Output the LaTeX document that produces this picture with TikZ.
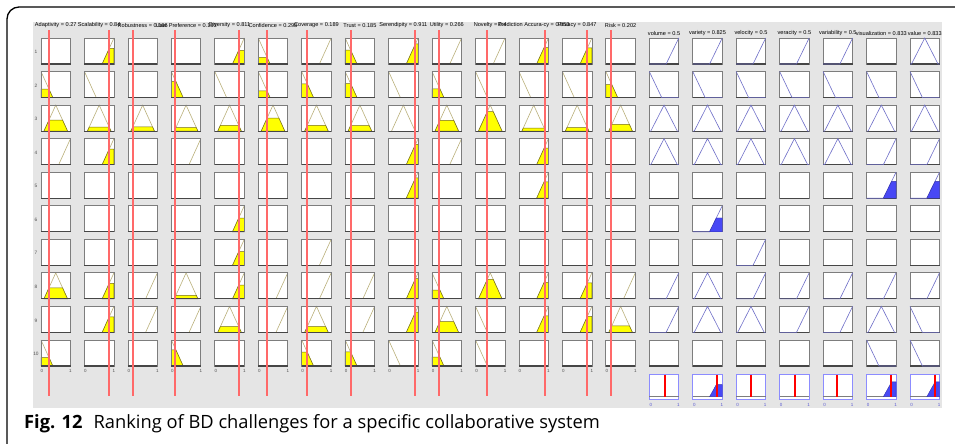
\documentclass[tikz,border=0pt]{standalone}
\usepackage{fontspec}
\setmainfont{Liberation Sans}
\newfontfamily\capfont{Open Sans}

\definecolor{panel}{RGB}{229,229,229}
\definecolor{boxgray}{RGB}{125,125,125}
\definecolor{basegray}{RGB}{70,70,70}
\definecolor{khaki}{RGB}{186,176,122}
\definecolor{fillyel}{RGB}{255,255,0}
\definecolor{filledge}{RGB}{115,105,25}
\definecolor{inred}{RGB}{255,105,105}
\definecolor{outblue}{RGB}{110,110,200}
\definecolor{fillblue}{RGB}{72,72,245}
\definecolor{aggframe}{RGB}{140,140,255}
\definecolor{ticktxt}{RGB}{80,80,80}
\definecolor{bluetxt}{RGB}{90,90,210}

\tikzset{
  cellbg/.style={fill=white},
  cellframe/.style={draw=boxgray,line width=0.8pt},
  cellbase/.style={draw=basegray,line width=1.1pt},
  inmf/.style={draw=khaki,line width=0.6pt},
  incut/.style={fill=fillyel,draw=filledge,line width=0.5pt},
  outmf/.style={draw=outblue,line width=0.6pt},
  outcut/.style={fill=fillblue,draw=fillblue!70!black,line width=0.4pt},
  aggbox/.style={fill=white,draw=aggframe,line width=0.7pt},
  aggbase/.style={draw=boxgray,line width=0.6pt},
  valline/.style={draw=inred,line width=1.6pt},
  aggline/.style={draw=red,line width=2pt},
  varlabel/.style={font=\fontsize{5.6}{6}\selectfont,text=black,inner sep=0pt},
  rulenum/.style={font=\fontsize{4.8}{5}\selectfont,text=ticktxt,inner sep=0pt},
  ticklbl/.style={font=\fontsize{4.5}{5}\selectfont,text=ticktxt,inner sep=0pt},
  blueticklbl/.style={font=\fontsize{4.5}{5}\selectfont,text=bluetxt,inner sep=0pt},
  caption/.style={font=\capfont\fontsize{18.3}{20}\selectfont,inner sep=0pt,anchor=base west},
  outerframe/.style={draw=black,line width=1.3pt,rounded corners=12pt}
}

% crisp input values of the fourteen antecedent variables
\def\invals{{0.27,0.84,0.166,0.153,0.811,0.298,0.189,0.185,0.911,0.266,0.4,0.853,0.847,0.202}}

% one antecedent plot: column, rule, membership function (L, M, H or 0)
\newcommand\drawincell[3]{%
  \pgfmathsetmacro\cellx{41+43.45*#1}%
  \pgfmathsetmacro\celly{64+33.55*(#2-1)}%
  \pgfmathsetmacro\cv{\invals[#1]}%
  \begin{scope}[shift={(\cellx,\celly)},x=29.5pt,y=26pt]
    \fill[cellbg] (0,0) rectangle (1,1);
    \if#3L
      \pgfmathsetmacro\cut{max(0,1-\cv/0.4)}%
      \draw[inmf] (0,1) -- (0.4,0);
      \ifdim\cut pt>0.01pt
        \filldraw[incut] (0,0) -- (0,\cut) -- ({0.4*(1-\cut)},\cut) -- (0.4,0) -- cycle;
      \fi
    \fi
    \if#3M
      \pgfmathsetmacro\cut{max(0,min((\cv-0.1)/0.4,(0.9-\cv)/0.4))}%
      \draw[inmf] (0.1,0) -- (0.5,1) -- (0.9,0);
      \ifdim\cut pt>0.01pt
        \filldraw[incut] (0.1,0) -- ({0.1+0.4*\cut},\cut) -- ({0.9-0.4*\cut},\cut) -- (0.9,0) -- cycle;
      \fi
    \fi
    \if#3H
      \pgfmathsetmacro\cut{max(0,(\cv-0.6)/0.4)}%
      \draw[inmf] (0.6,0) -- (1,1);
      \ifdim\cut pt>0.01pt
        \filldraw[incut] (0.6,0) -- ({0.6+0.4*\cut},\cut) -- (1,\cut) -- (1,0) -- cycle;
      \fi
    \fi
    \draw[cellframe] (0,0) rectangle (1,1);
    \draw[cellbase] (0,0) -- (1,0);
  \end{scope}}

% one consequent plot: output column, rule, membership function, firing strength
\newcommand\drawoutcell[4]{%
  \pgfmathsetmacro\cellx{41+43.45*(14+#1)}%
  \pgfmathsetmacro\celly{64+33.55*(#2-1)}%
  \begin{scope}[shift={(\cellx,\celly)},x=29.5pt,y=26pt]
    \fill[cellbg] (0,0) rectangle (1,1);
    \draw[cellframe] (0,0) rectangle (1,1);
    \draw[cellbase] (0,0) -- (1,0);
    \if#3L
      \draw[outmf] (0,1) -- (0.42,0) -- (1,0);
    \fi
    \if#3M
      \draw[outmf] (0,0) -- (0.05,0) -- (0.5,1) -- (0.95,0) -- (1,0);
    \fi
    \if#3H
      \draw[outmf] (0,0) -- (0.57,0) -- (1,1);
      \ifdim#4pt>0.01pt
        \filldraw[outcut] (0.57,0) -- ({0.57+0.43*#4},#4) -- (1,#4) -- (1,0) -- cycle;
      \fi
    \fi
  \end{scope}}

% aggregated output plot: output column, crisp value, aggregated height
\newcommand\drawaggcell[3]{%
  \pgfmathsetmacro\cellx{41+43.45*(14+#1)}%
  \begin{scope}[shift={(\cellx,396.7)},x=29.5pt,y=22.7pt]
    \draw[aggbox] (0,-0.1) rectangle (1,1);
    \draw[aggbase] (0,0) -- (1,0);
    \ifdim#3pt>0.01pt
      \filldraw[outcut] (0.57,0) -- ({0.57+0.43*#3},#3) -- (1,#3) -- (1,0) -- cycle;
    \fi
  \end{scope}
  % crisp output marker, kept on whole even pixel pairs
  \pgfmathsetmacro\lx{2*round((\cellx+29.5*#2-1)/2)+1}%
  \draw[aggline] (\lx,374.5) -- (\lx,396.7);}

\begin{document}
\begin{tikzpicture}[x=1pt,y=-1pt]
\useasboundingbox (0,0) rectangle (955,444);

% grey window background
\fill[panel] (33,22) rectangle (942,408);

% antecedent plots, one row per rule
\foreach \r/\row in {
  1/{0,H,0,0,H,L,H,L,H,H,H,H,H,0},
  2/{L,L,0,L,L,L,L,L,L,L,L,L,L,L},
  3/{M,M,M,M,M,M,M,M,M,M,M,M,M,M},
  4/{H,H,0,H,0,0,0,0,H,H,0,H,0,0},
  5/{0,0,0,0,0,0,0,0,H,0,0,H,0,0},
  6/{0,0,0,0,H,0,0,0,0,0,0,0,0,0},
  7/{0,0,0,0,H,0,H,0,0,0,0,0,0,0},
  8/{M,H,H,M,H,H,H,H,H,L,M,H,H,H},
  9/{0,H,H,H,M,H,M,H,H,M,L,H,H,M},
  10/{L,0,0,L,0,0,L,L,L,L,L,0,0,0}}{
  \foreach \mf [count=\ci from 0] in \row {\drawincell{\ci}{\r}{\mf}}
}

% consequent plots, one row per rule
\foreach \r/\fire/\row in {
  1/0/{H,H,H,H,H,0,M},
  2/0/{L,L,L,L,L,L,L},
  3/0/{M,M,M,M,M,M,M},
  4/0/{M,M,M,M,M,H,H},
  5/0.65/{0,0,0,0,0,H,H},
  6/0.53/{0,H,0,0,0,0,0},
  7/0/{0,0,H,0,0,0,0},
  8/0/{H,M,H,H,H,H,H},
  9/0/{H,M,M,H,H,M,L},
  10/0/{0,0,0,0,0,L,L}}{
  \foreach \mf [count=\ci from 0] in \row {\drawoutcell{\ci}{\r}{\mf}{\fire}}
}

% aggregated outputs
\foreach \k/\ov/\agg in {0/0.5/0,1/0.825/0.53,2/0.5/0,3/0.5/0,4/0.5/0,5/0.833/0.65,6/0.833/0.65}{
  \drawaggcell{\k}{\ov}{\agg}
}

% crisp input values across all rules, kept on whole even pixel pairs
\foreach \c in {0,...,13}{
  \pgfmathsetmacro\cv{\invals[\c]}
  \pgfmathsetmacro\lx{2*round((41+43.45*\c+29.5*\cv-1)/2)+1}
  \coordinate (vtop\c) at (\lx,30);
  \coordinate (vbot\c) at (\lx,396);
}
\foreach \c in {0,...,13}{
  \draw[valline] (vtop\c) -- (vbot\c);
}

% rule numbers and axis ticks
\foreach \r in {1,...,10}{
  \node[rulenum] (rule\r) at (36,{52+33.55*(\r-1)}) {\r};
}
\foreach \c in {0,...,13}{
  \pgfmathsetmacro\cellx{41+43.45*\c}
  \node[ticklbl] (inzero\c) at (\cellx+1,370.5) {0};
  \node[ticklbl] (inone\c) at (\cellx+29.5,370.5) {1};
}
\foreach \k in {0,...,6}{
  \pgfmathsetmacro\cellx{41+43.45*(14+\k)}
  \node[blueticklbl] (aggzero\k) at (\cellx+1.5,404.5) {0};
  \node[blueticklbl] (aggone\k) at (\cellx+29,404.5) {1};
}

% variable titles
\foreach \c/\txt in {
  0/Adaptivity = 0.27, 1/Scalability = 0.84, 2/Robustness = 0.166,
  3/User Preference = 0.153, 4/Diversity = 0.811, 5/Confidence = 0.298,
  6/Coverage = 0.189, 7/Trust = 0.185, 8/Serendipity = 0.911,
  9/Utility = 0.266, 10/Novelty = 0.4, 11/Prediction Accura-cy = 0.853,
  12/Privacy = 0.847, 13/Risk = 0.202}{
  \node[varlabel] (intitle\c) at ({41+43.45*\c+14.75},25.5) {\txt};
}
\foreach \k/\txt in {
  0/volume = 0.5, 1/variety = 0.825, 2/velocity = 0.5, 3/veracity = 0.5,
  4/variability = 0.5, 5/visualization = 0.833, 6/value = 0.833}{
  \node[varlabel] (outtitle\k) at ({41+43.45*(14+\k)+14.75},33.5) {\txt};
}

% figure caption
\node[caption] (cap) at (24,428) {\textbf{Fig. 12}\hspace{0.6em}Ranking of BD challenges for a specific collaborative system};

% page frame
\draw[outerframe] (7,444) -- (7,7) -- (955,7);
\end{tikzpicture}
\end{document}
